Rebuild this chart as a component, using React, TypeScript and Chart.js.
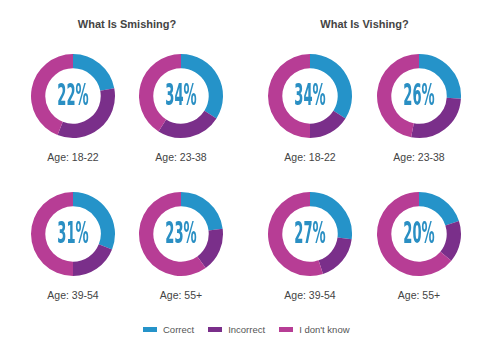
import React, { useEffect, useRef } from "react";
import { Chart, registerables } from "chart.js";

Chart.register(...registerables);

const groupTitles = ["What Is Smishing?", "What Is Vishing?"];
const seriesNames = ["Correct", "Incorrect", "I don't know"];
const seriesColors = ["#2593c9", "#7a2f8a", "#b73d95"];
const ageLabels = ["Age: 18-22", "Age: 23-38", "Age: 39-54", "Age: 55+"];

const smishingCorrect = [22, 34, 31, 23];
const smishingIncorrect = [34, 25, 19, 17];
const smishingDontKnow = [44, 41, 50, 60];

const vishingCorrect = [34, 26, 27, 20];
const vishingIncorrect = [16, 27, 18, 16];
const vishingDontKnow = [50, 47, 55, 64];

const groups = [
  { correct: smishingCorrect, incorrect: smishingIncorrect, dontKnow: smishingDontKnow },
  { correct: vishingCorrect, incorrect: vishingIncorrect, dontKnow: vishingDontKnow },
];

const SIZE = 86;
const colX = [[73, 181], [310, 419]];
const rowY = [96, 234];

const centerTextPlugin = {
  id: "centerText",
  afterDraw(chart: any, _args: any, opts: any) {
    const meta = chart.getDatasetMeta(0);
    const arc = meta.data[0];
    if (!arc) return;
    const { x, y } = arc;
    const ctx = chart.ctx;
    ctx.save();
    ctx.translate(x, y + 1);
    ctx.scale(0.47, 1);
    ctx.font = "bold 31px 'DejaVu Sans Condensed', 'DejaVu Sans', sans-serif";
    ctx.fillStyle = "#2a8fc3";
    ctx.textAlign = "center";
    ctx.textBaseline = "middle";
    ctx.fillText(opts.text, 0, 0);
    ctx.restore();
  },
};

function Donut({ values, cx, cy, label }: { values: number[]; cx: number; cy: number; label: string }) {
  const ref = useRef<HTMLCanvasElement>(null);
  useEffect(() => {
    const chart = new Chart(ref.current!, {
      type: "doughnut",
      data: {
        labels: seriesNames,
        datasets: [
          {
            data: values,
            backgroundColor: seriesColors,
            borderWidth: 0,
          },
        ],
      },
      options: {
        responsive: false,
        animation: false,
        cutout: "66%",
        layout: { padding: 1 },
        events: [],
        plugins: {
          legend: { display: false },
          tooltip: { enabled: false },
          centerText: { text: values[0] + "%" },
        } as any,
      },
      plugins: [centerTextPlugin],
    });
    return () => chart.destroy();
  }, []);
  return (
    <>
      <canvas
        ref={ref}
        width={SIZE}
        height={SIZE}
        style={{ position: "absolute", left: cx - SIZE / 2, top: cy - SIZE / 2, width: SIZE, height: SIZE }}
      />
      <div
        style={{
          position: "absolute",
          left: cx - 50,
          width: 100,
          top: cy + 55,
          textAlign: "center",
          font: "10.5px 'Liberation Sans', Arial, sans-serif",
          color: "#444",
        }}
      >
        {label}
      </div>
    </>
  );
}

export default function App() {
  const donuts: React.ReactNode[] = [];
  groups.forEach((g, gi) => {
    ageLabels.forEach((age, ai) => {
      const row = Math.floor(ai / 2);
      const col = ai % 2;
      donuts.push(
        <Donut
          key={gi + "-" + ai}
          values={[g.correct[ai], g.incorrect[ai], g.dontKnow[ai]]}
          cx={colX[gi][col]}
          cy={rowY[row]}
          label={age}
        />
      );
    });
  });
  return (
    <div style={{ position: "absolute", left: 0, top: 0, width: 491, height: 356, background: "#fff", overflow: "hidden" }}>
      {groupTitles.map((t, gi) => (
        <div
          key={t}
          style={{
            position: "absolute",
            left: (colX[gi][0] + colX[gi][1]) / 2 - 100,
            width: 200,
            top: 18,
            textAlign: "center",
            font: "bold 11px 'Liberation Sans', Arial, sans-serif",
            color: "#444",
          }}
        >
          {t}
        </div>
      ))}
      {donuts}
      <div
        style={{
          position: "absolute",
          left: 143,
          top: 324,
          display: "flex",
          alignItems: "center",
          font: "9.5px 'Liberation Sans', Arial, sans-serif",
          color: "#555",
        }}
      >
        {seriesNames.map((n, i) => (
          <div key={n} style={{ display: "flex", alignItems: "center", marginRight: 14 }}>
            <span style={{ display: "inline-block", width: 14, height: 5, background: seriesColors[i], marginRight: 6 }} />
            <span>{n}</span>
          </div>
        ))}
      </div>
    </div>
  );
}
